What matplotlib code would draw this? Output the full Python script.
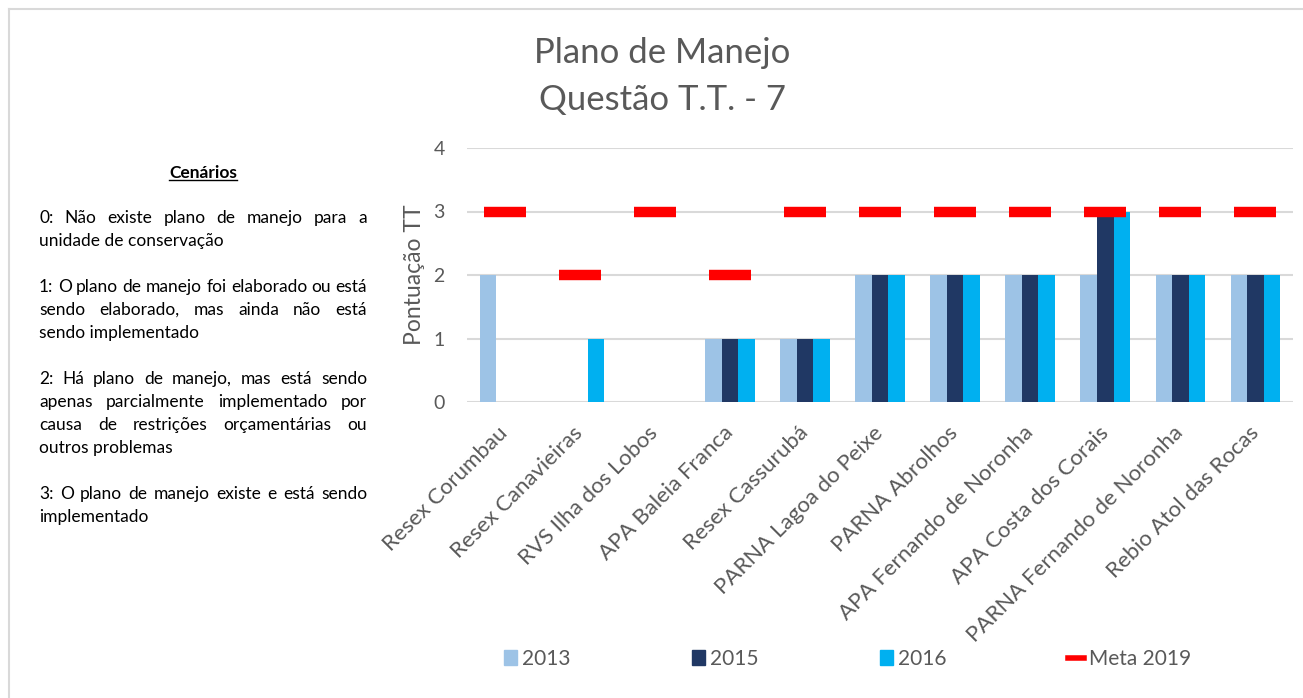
import matplotlib
matplotlib.use("Agg")
import matplotlib.pyplot as plt
import numpy as np
from matplotlib.patches import Patch
from matplotlib.lines import Line2D

categories = ["Resex Corumbau", "Resex Canavieiras", "RVS Ilha dos Lobos",
              "APA Baleia Franca", "Resex Cassurubá", "PARNA Lagoa do Peixe",
              "PARNA Abrolhos", "APA Fernando de Noronha", "APA Costa dos Corais",
              "PARNA Fernando de Noronha", "Rebio Atol das Rocas"]
v2013 = [2, 0, 0, 1, 1, 2, 2, 2, 2, 2, 2]
v2015 = [0, 0, 0, 1, 1, 2, 2, 2, 3, 2, 2]
v2016 = [0, 1, 0, 1, 1, 2, 2, 2, 3, 2, 2]
meta2019 = [3, 2, 3, 2, 3, 3, 3, 3, 3, 3, 3]
series_names = ["2013", "2015", "2016", "Meta 2019"]
yticks = [0, 1, 2, 3, 4]

c2013, c2015, c2016, cmeta = "#9DC3E6", "#203864", "#00B0F0", "#FF0000"
grey = "#595959"
FONT = "Lato"
plt.rcParams["font.family"] = [FONT, "DejaVu Sans"]

W, H = 1303, 698
fig = plt.figure(figsize=(W / 100, H / 100), dpi=100)

def px(x, y):
    return x / W, 1 - y / H

# border (left & top visible)
fig.add_artist(Line2D([9 / W, 9 / W], [0, 1 - 9 / H], color="#D9D9D9", lw=1.5, transform=fig.transFigure))
fig.add_artist(Line2D([9 / W, 1], [1 - 9 / H, 1 - 9 / H], color="#D9D9D9", lw=1.5, transform=fig.transFigure))

ax = fig.add_axes([467 / W, (H - 402) / H, (1293 - 467) / W, (402 - 148) / H])
x = np.arange(len(categories))
bw = 0.22
ax.bar(x - bw, v2013, bw, color=c2013, zorder=2)
ax.bar(x, v2015, bw, color=c2015, zorder=2)
ax.bar(x + bw, v2016, bw, color=c2016, zorder=2)
ax.hlines(meta2019, x - 0.28, x + 0.28, colors=cmeta, lw=7.5, zorder=3, capstyle="butt")

ax.set_xlim(-0.5, len(categories) - 0.5)
ax.set_ylim(0, 4)
ax.set_yticks(yticks)
ax.yaxis.grid(True, color="#D9D9D9", lw=1.5, zorder=0)
ax.set_axisbelow(True)
for s in ax.spines.values():
    s.set_visible(False)
ax.tick_params(axis="both", length=0, colors=grey)
ax.tick_params(axis="y", pad=16, labelsize=14)
ax.set_xticks(x)
ax.set_xticklabels(categories, rotation=45, ha="right", rotation_mode="anchor", va="center")
ax.tick_params(axis="x", pad=20, labelsize=16)
ax.set_ylabel("Pontuação TT", color=grey, fontsize=16.5, labelpad=6)

# title
fig.text(662 / W, 1 - 53 / H, "Plano de Manejo", ha="center", va="center", fontsize=25, color=grey)
fig.text(662 / W, 1 - 100 / H, "Questão T.T. - 7", ha="center", va="center", fontsize=25, color=grey)

# legend: one entry per legend, placed at the reference positions
handles = [Patch(color=c2013), Patch(color=c2015), Patch(color=c2016),
           Line2D([0], [0], color=cmeta, lw=4)]
leg_x = [504, 692, 880, 1068]
for h, name, lx in zip(handles, series_names, leg_x):
    is_line = isinstance(h, Line2D)
    fig.legend([h], [name], loc="center left", bbox_to_anchor=(lx / W, 1 - 659 / H),
               frameon=False, fontsize=15, handlelength=(0.75 if is_line else 0.6),
               handleheight=0.75, handletextpad=0.25, borderpad=0, borderaxespad=0,
               labelcolor=grey)

# left explanatory text (justified)
renderer = fig.canvas.get_renderer()
x0, x1 = 39, 367
tfs = 12.5
hdr = fig.text(*px(203, 173), "Cenários", ha="center", va="center", fontsize=tfs, weight="bold", color="#000000")
bb = hdr.get_window_extent(renderer)
fig.add_artist(Line2D([bb.x0 / W, bb.x1 / W], [(bb.y0 + 1) / H, (bb.y0 + 1) / H], color="#000000", lw=1,
                      transform=fig.transFigure))

lines = [
    ("0: Não existe plano de manejo para a", True, 218),
    ("unidade de conservação", False, 241),
    ("1: O plano de manejo foi elaborado ou está", True, 287),
    ("sendo elaborado, mas ainda não está", True, 310),
    ("sendo implementado", False, 333),
    ("2: Há plano de manejo, mas está sendo", True, 379),
    ("apenas parcialmente implementado por", True, 402),
    ("causa de restrições orçamentárias ou", True, 425),
    ("outros problemas", False, 448),
    ("3: O plano de manejo existe e está sendo", True, 494),
    ("implementado", False, 517),
]
for txt, just, yy in lines:
    if not just:
        fig.text(*px(x0, yy), txt, ha="left", va="center", fontsize=tfs, color="#000000")
        continue
    words = txt.split(" ")
    arts = [fig.text(0, 0, w, ha="left", va="center", fontsize=tfs, color="#000000") for w in words]
    widths = [a.get_window_extent(renderer).width for a in arts]
    gap = max((x1 - x0 - sum(widths)) / (len(words) - 1), 2.5)
    cx = x0
    for a, wdt in zip(arts, widths):
        a.set_position(px(cx, yy))
        cx += wdt + gap

fig.savefig("out.png", dpi=100)
